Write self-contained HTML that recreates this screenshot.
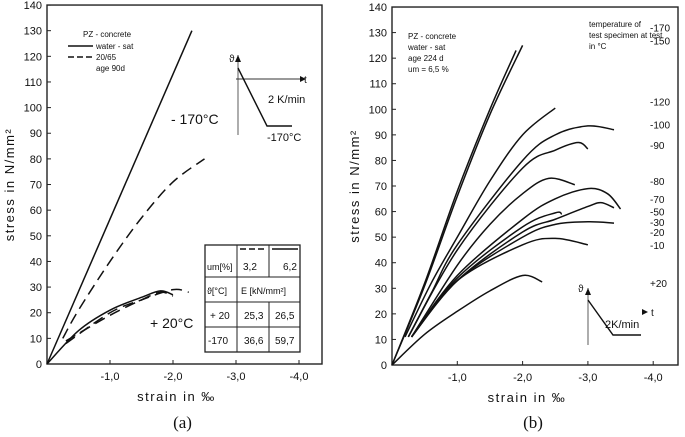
<!DOCTYPE html>
<html><head><meta charset="utf-8"><style>
html,body{margin:0;padding:0;background:#fff;width:685px;height:437px;overflow:hidden}
svg{display:block;font-family:"Liberation Sans",sans-serif}
</style></head><body>
<svg id="s" width="685" height="437" viewBox="0 0 685 437"></svg>
<script>
// Panel (a) data: strain magnitude (‰) and stress (N/mm²)
const aSolidColdStrain=[0,2.3];
const aSolidColdStress=[0,130];
const aDashColdStrain=[0.25,0.5,1.0,1.5,2.0,2.5];
const aDashColdStress=[10,21,40,57,71,80];
const aSolidWarmStrain=[0,0.5,1.0,1.5,1.8,2.0];
const aSolidWarmStress=[0,13,21,26,28.5,27];
const aDashWarm1Strain=[0.3,1.0,1.5,2.0,2.25];
const aDashWarm1Stress=[8,20,25,29,28];
const aDashWarm2Strain=[0.3,1.0,1.5,1.8,2.0];
const aDashWarm2Stress=[9,19,25,28,26.5];
// Panel (b) data
const bNames=["-170","-150","-120","-100","-90","-80","-70","-50","-30","-20","-10","+20"];
const bStrain=[
[0,0.5,1.0,1.5,1.9],
[0,0.5,1.0,1.5,2.0],
[0.2,0.6,1.0,1.5,2.0,2.5],
[0.25,0.6,1.0,2.0,2.5,3.0,3.4],
[0.25,1.0,2.0,2.5,2.85,3.0],
[0.3,1.0,1.5,2.0,2.4,2.8],
[0.3,1.0,2.0,2.5,3.0,3.3,3.5],
[0.3,1.0,2.0,2.5,3.0,3.2,3.4],
[0.3,1.0,2.0,2.5,3.0,3.4],
[0.3,1.0,2.0,2.5,2.6],
[0.3,1.0,2.0,2.5,3.0],
[0,0.5,1.0,1.5,2.0,2.3]];
const bStress=[
[0,32,68,100,123],
[0,31,66,98,125],
[11,32,50,72,90,100.5],
[11,28,47,80,90,93.5,92],
[11,45,77,84,87,84.5],
[11,39,55,67,73,70.5],
[11,35,57,65,69,67,61],
[11,33,52,57,62,63.5,61.5],
[11,33,50,55,56,55.5],
[11,34,54,59.5,59],
[11,33,47,49.5,47],
[0,12,21,29,35,32.5]];
const bLabelY=[132,127,103,94,86,72,65,60,56,52,47,32];
const yTicks=[0,10,20,30,40,50,60,70,80,90,100,110,120,130,140];
const xTicks=[1,2,3,4];
const xTickLabels=["-1,0","-2,0","-3,0","-4,0"];

const S=document.getElementById('s');const NS="http://www.w3.org/2000/svg";
function mk(t,a,p){const e=document.createElementNS(NS,t);for(const k in a)e.setAttribute(k,a[k]);(p||S).appendChild(e);return e;}
function txt(x,y,s,size,anchor,name,extra){const e=mk('text',Object.assign({x:x,y:y,'font-size':size,'text-anchor':anchor||'start',fill:'#111'},extra||{}));e.textContent=s;return e;}
function smooth(pts){let d="M"+pts[0][0]+","+pts[0][1];for(let i=0;i<pts.length-1;i++){const p0=pts[Math.max(0,i-1)],p1=pts[i],p2=pts[i+1],p3=pts[Math.min(pts.length-1,i+2)];const c1=[p1[0]+(p2[0]-p0[0])/6,p1[1]+(p2[1]-p0[1])/6],c2=[p2[0]-(p3[0]-p1[0])/6,p2[1]-(p3[1]-p1[1])/6];d+=" C"+c1+" "+c2+" "+p2;}return d;}

function panel(o){
  const X=v=>o.x0+v*o.ux, Y=v=>o.y0-v*o.uy;
  const g=mk('g',{});
  const f=mk('rect',{x:o.x0,y:Y(140),width:o.right-o.x0,height:o.y0-Y(140),fill:'none',stroke:'#222','stroke-width':1.4},g);
  
  yTicks.forEach(t=>{mk('line',{x1:o.x0,x2:o.x0+4,y1:Y(t),y2:Y(t),stroke:'#222'},g);txt(o.x0-5,Y(t)+4,String(t),11,'end','y-tick-label');});
  xTicks.forEach((t,i)=>{mk('line',{x1:X(t),x2:X(t),y1:o.y0,y2:o.y0-4,stroke:'#222'},g);txt(X(t),o.y0+16,xTickLabels[i],11,'middle','x-tick-label');});
  txt(o.x0+(o.right-o.x0)/2-8,o.y0+37,"strain in ‰",13,'middle','x-axis-title',{'letter-spacing':'1.5'});
  txt(0,0,"stress in N/mm²",13,'middle','y-axis-title',{'letter-spacing':'1.5',transform:`translate(${o.x0-33},${(o.y0+Y(140))/2}) rotate(-90)`});
  txt(o.x0+(o.right-o.x0)/2-2,428,o.cap,17,'middle','panel-caption',{'font-family':'Liberation Serif,serif'});
  return {X,Y,g};
}
function curve(P,xs,ys,dash,name){const pts=xs.map((v,i)=>[P.X(v),P.Y(ys[i])]);const e=mk('path',{d:smooth(pts),fill:'none',stroke:'#111','stroke-width':1.5,'stroke-dasharray':dash||'none'},P.g);}

// Panel A
const A=panel({x0:47,y0:364,uy:2.564,ux:63,right:322,cap:"(a)",name:"panel-a"});
curve(A,aSolidColdStrain,aSolidColdStress,null,'series-water-sat-minus170');
curve(A,aDashColdStrain,aDashColdStress,'11,6','series-20-65-minus170');
curve(A,aSolidWarmStrain,aSolidWarmStress,null,'series-water-sat-plus20');
curve(A,aDashWarm1Strain,aDashWarm1Stress,'11,6','series-20-65-plus20-a');
curve(A,aDashWarm2Strain,aDashWarm2Stress,'11,6','series-20-65-plus20-b');
txt(83,37,"PZ - concrete",8,'start','legend-title');
mk('line',{x1:68,x2:93,y1:46,y2:46,stroke:'#111','stroke-width':1.5});txt(96,49,"water - sat",8,'start','legend-entry');
mk('line',{x1:68,x2:93,y1:57,y2:57,stroke:'#111','stroke-width':1.5,'stroke-dasharray':'6,3'});txt(96,60,"20/65",8,'start','legend-entry');
txt(96,71,"age 90d",8,'start','legend-note');
txt(171,124,"- 170°C",14,'start','label-minus170');
txt(150,328,"+ 20°C",14,'start','label-plus20');
// inset
mk('line',{x1:238,x2:238,y1:55,y2:135,stroke:'#333','stroke-width':0.8});
mk('line',{x1:236,x2:300,y1:79,y2:79,stroke:'#333','stroke-width':1});
mk('polygon',{points:'300,76 306,79 300,82',fill:'#111'});
mk('polygon',{points:'235,62 238,55 241,62',fill:'#111'});
mk('polyline',{points:'238,68 267,126 292,126',fill:'none',stroke:'#111','stroke-width':1.4});
txt(229,62,"ϑ",10,'start','inset-y-label');txt(304,83,"t",10,'start','inset-x-label');
txt(268,103,"2 K/min",11,'start','inset-rate');txt(267,141,"-170°C",11,'start','inset-temp');
// table
const tb=mk('g',{});
[[205,245,300,245],[205,277,300,277],[205,302,300,302],[205,327,300,327],[205,352,300,352]].forEach(l=>mk('line',{x1:l[0],y1:l[1],x2:l[2],y2:l[3],stroke:'#222','stroke-width':1},tb));
mk('rect',{x:205,y:245,width:95,height:107,fill:'none',stroke:'#222','stroke-width':1.3},tb);
mk('line',{x1:237,x2:237,y1:245,y2:352,stroke:'#222'},tb);
mk('line',{x1:269,x2:269,y1:245,y2:277,stroke:'#222'},tb);mk('line',{x1:269,x2:269,y1:302,y2:352,stroke:'#222'},tb);
mk('line',{x1:240,x2:267,y1:249,y2:249,stroke:'#111','stroke-width':1.6,'stroke-dasharray':'6,3'},tb);
mk('line',{x1:272,x2:298,y1:249,y2:249,stroke:'#111','stroke-width':1.6},tb);
txt(207,270,"um[%]",9,'start','table-cell');txt(243,270,"3,2",10,'start','table-cell');txt(283,270,"6,2",10,'start','table-cell');
txt(207,294,"ϑ[°C]",9,'start','table-cell');txt(241,294,"E [kN/mm²]",9,'start','table-cell');
txt(210,319,"+ 20",10,'start','table-cell');txt(244,319,"25,3",10,'start','table-cell');txt(275,319,"26,5",10,'start','table-cell');
txt(208,344,"-170",10,'start','table-cell');txt(244,344,"36,6",10,'start','table-cell');txt(275,344,"59,7",10,'start','table-cell');

// Panel B
const B=panel({x0:392,y0:365,uy:2.557,ux:65.3,right:678,cap:"(b)",name:"panel-b"});
bNames.forEach((n,i)=>{curve(B,bStrain[i],bStress[i],null,'series-'+n);txt(650,B.Y(bLabelY[i])+4,n,10,'start','series-label');});
txt(408,39,"PZ - concrete",8,'start','legend-title');txt(408,50,"water - sat",8,'start','legend-note');
txt(408,61,"age 224 d",8,'start','legend-note');txt(408,72,"um = 6,5 %",8,'start','legend-note');
txt(589,27,"temperature of",8,'start','legend-header');txt(589,38,"test specimen at test",8,'start','legend-header');txt(589,49,"in °C",8,'start','legend-header');
mk('line',{x1:588,x2:588,y1:288,y2:345,stroke:'#333','stroke-width':0.8});
mk('polygon',{points:'585,295 588,288 591,295',fill:'#111'});
mk('polyline',{points:'588,300 613,335 641,335',fill:'none',stroke:'#111','stroke-width':1.4});
mk('polygon',{points:'642,309 648,312 642,315',fill:'#111'});
txt(578,292,"ϑ",10,'start','inset-y-label');txt(651,316,"t",10,'start','inset-x-label');txt(605,328,"2K/min",11,'start','inset-rate');
</script>
</body></html>
